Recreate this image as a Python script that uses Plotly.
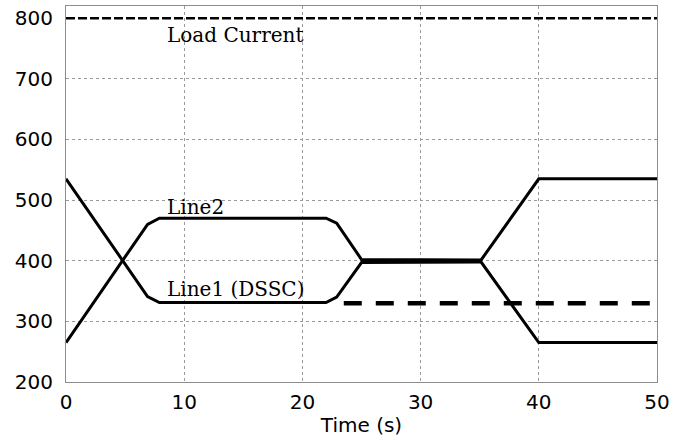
import plotly.graph_objects as go

# Data
time_pts = [0, 6.9, 7.9, 22, 22.9, 25, 35, 40, 50]
line1_dssc = [535, 341, 331, 331, 340, 397, 398, 535, 535]
line2 = [265, 460, 470, 470, 462, 402, 401, 265, 265]
load_time = [0, 50]
load_current = [800, 800]
ref_time = [23.5, 50]
ref_level = [330, 330]

x_ticks = [0, 10, 20, 30, 40, 50]
y_ticks = [200, 300, 400, 500, 600, 700, 800]

fig = go.Figure()
fig.add_trace(go.Scatter(x=load_time, y=load_current, mode="lines",
                         line=dict(color="black", width=2.5, dash="9px,3px"),
                         showlegend=False))
fig.add_trace(go.Scatter(x=ref_time, y=ref_level, mode="lines",
                         line=dict(color="black", width=4.5, dash="18px,14px"),
                         showlegend=False))
fig.add_trace(go.Scatter(x=time_pts, y=line1_dssc, mode="lines",
                         line=dict(color="black", width=3), showlegend=False))
fig.add_trace(go.Scatter(x=time_pts, y=line2, mode="lines",
                         line=dict(color="black", width=3), showlegend=False))

serif = dict(family="DejaVu Serif, serif", size=20, color="black")
fig.add_annotation(x=8.4, y=772, text="Load Current", showarrow=False,
                   xanchor="left", yanchor="middle", font=serif)
fig.add_annotation(x=8.4, y=489, text="Line2", showarrow=False,
                   xanchor="left", yanchor="middle", font=serif)
fig.add_annotation(x=8.4, y=353, text="Line1 (DSSC)", showarrow=False,
                   xanchor="left", yanchor="middle", font=serif)

sans = dict(family="DejaVu Sans, sans-serif", size=20, color="black")
axis_common = dict(showgrid=True, gridcolor="#9a9a9a", gridwidth=1, griddash="dot",
                   showline=True, mirror=True, linecolor="#8c8c8c", linewidth=1.2,
                   zeroline=False, ticks="", tickfont=sans)

fig.update_xaxes(range=[0, 50], tickvals=x_ticks, ticklabelstandoff=2,
                 title=dict(text="Time (s)", standoff=4, font=sans),
                 **axis_common)
fig.update_yaxes(range=[200, 820], tickvals=y_ticks, ticklabelstandoff=8, **axis_common)

fig.update_layout(width=684, height=440,
                  margin=dict(l=66, r=27, t=6, b=58),
                  plot_bgcolor="white", paper_bgcolor="white")

fig.write_html("out.html")
